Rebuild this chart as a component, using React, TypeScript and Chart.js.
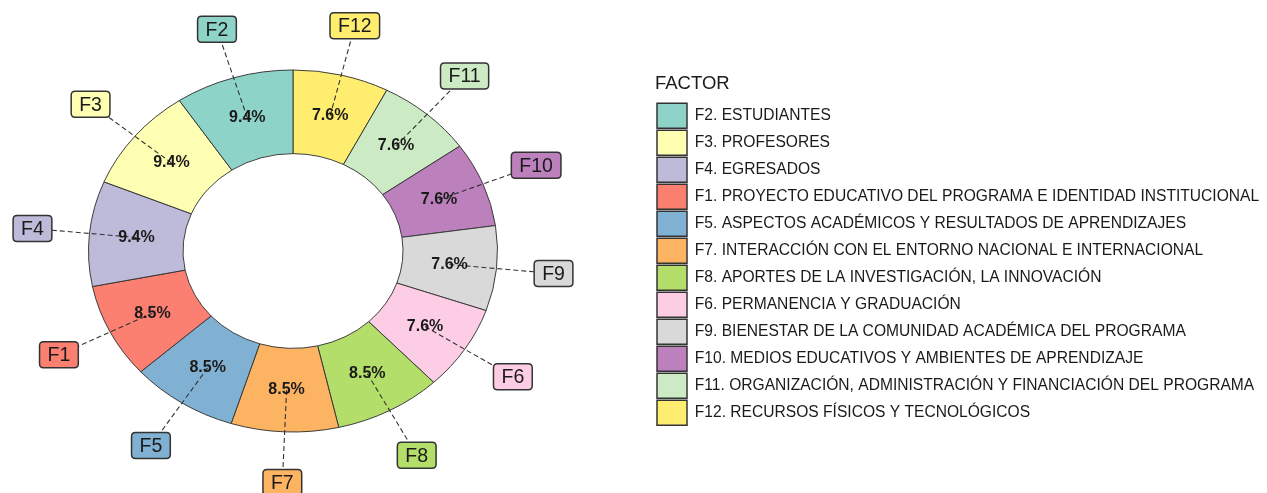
import React, { useEffect, useRef } from 'react';
import { Chart, registerables } from 'chart.js';

Chart.register(...registerables);

// Legend (factor) order
const FACTOR_CODES = ['F2', 'F3', 'F4', 'F1', 'F5', 'F7', 'F8', 'F6', 'F9', 'F10', 'F11', 'F12'];
const FACTOR_NAMES = [
  'F2. ESTUDIANTES',
  'F3. PROFESORES',
  'F4. EGRESADOS',
  'F1. PROYECTO EDUCATIVO DEL PROGRAMA E IDENTIDAD INSTITUCIONAL',
  'F5. ASPECTOS ACADÉMICOS Y RESULTADOS DE APRENDIZAJES',
  'F7. INTERACCIÓN CON EL ENTORNO NACIONAL E INTERNACIONAL',
  'F8. APORTES DE LA INVESTIGACIÓN, LA INNOVACIÓN',
  'F6. PERMANENCIA Y GRADUACIÓN',
  'F9. BIENESTAR DE LA COMUNIDAD ACADÉMICA DEL PROGRAMA',
  'F10. MEDIOS EDUCATIVOS Y AMBIENTES DE APRENDIZAJE',
  'F11. ORGANIZACIÓN, ADMINISTRACIÓN Y FINANCIACIÓN DEL PROGRAMA',
  'F12. RECURSOS FÍSICOS Y TECNOLÓGICOS',
];
const PERCENTS = [9.4, 9.4, 9.4, 8.5, 8.5, 8.5, 8.5, 7.6, 7.6, 7.6, 7.6, 7.6];
const COLORS = [
  '#8DD3C7', '#FFFFB3', '#BEBADA', '#FB8072', '#80B1D3', '#FDB462',
  '#B3DE69', '#FCCDE5', '#D9D9D9', '#BC80BD', '#CCEBC5', '#FFED6F',
];
const LEGEND_TITLE = 'FACTOR';

// layout constants
const CX = 293;
const CY = 251;
const R = 205;
const SY = 181 / 204.5;
const LABEL_R = 1.28;
const FONT = '"Liberation Sans", Arial, Helvetica, sans-serif';
const INK = '#1a1a1a';

// drawing order is reversed (clockwise from top), legend shows reversed back
const drawCodes = [...FACTOR_CODES].reverse();
const drawNames = [...FACTOR_NAMES].reverse();
const drawValues = [...PERCENTS].reverse();
const drawColors = [...COLORS].reverse();

function roundRect(ctx: CanvasRenderingContext2D, x: number, y: number, w: number, h: number, r: number) {
  ctx.beginPath();
  ctx.moveTo(x + r, y);
  ctx.lineTo(x + w - r, y);
  ctx.quadraticCurveTo(x + w, y, x + w, y + r);
  ctx.lineTo(x + w, y + h - r);
  ctx.quadraticCurveTo(x + w, y + h, x + w - r, y + h);
  ctx.lineTo(x + r, y + h);
  ctx.quadraticCurveTo(x, y + h, x, y + h - r);
  ctx.lineTo(x, y + r);
  ctx.quadraticCurveTo(x, y, x + r, y);
  ctx.closePath();
}

const placePlugin = {
  id: 'placeAreas',
  afterLayout(chart: any) {
    const ca = chart.chartArea;
    ca.left = CX - R;
    ca.right = CX + R;
    ca.top = CY - R;
    ca.bottom = CY + R;
    ca.width = 2 * R;
    ca.height = 2 * R;
    const lg = chart.legend;
    if (lg) {
      const dx = 655 - lg.left;
      lg.left += dx;
      lg.right += dx;
      const dy = 75 - lg.top;
      lg.top += dy;
      lg.bottom += dy;
    }
  },
};

const ellipsePlugin = {
  id: 'ellipseAndLabels',
  beforeDatasetsDraw(chart: any) {
    const ctx = chart.ctx;
    const arc = chart.getDatasetMeta(0).data[0];
    const cy = arc ? arc.y : CY;
    ctx.save();
    ctx.translate(0, cy);
    ctx.scale(1, SY);
    ctx.translate(0, -cy);
  },
  afterDatasetsDraw(chart: any) {
    const ctx: CanvasRenderingContext2D = chart.ctx;
    ctx.restore();
    const meta = chart.getDatasetMeta(0);
    const items = meta.data.map((arc: any, i: number) => {
      const p = arc.getProps(['x', 'y', 'startAngle', 'endAngle', 'innerRadius', 'outerRadius'], true);
      const a = (p.startAngle + p.endAngle) / 2;
      const rm = (p.innerRadius + p.outerRadius) / 2;
      const rl = p.outerRadius * LABEL_R;
      return {
        px: p.x + rm * Math.cos(a),
        py: p.y + SY * rm * Math.sin(a),
        bx: p.x + rl * Math.cos(a),
        by: p.y + SY * rl * Math.sin(a),
        code: drawCodes[i],
        value: drawValues[i],
        color: drawColors[i],
      };
    });
    ctx.save();
    // leader segments
    ctx.strokeStyle = '#333';
    ctx.lineWidth = 1.1;
    ctx.setLineDash([5, 3]);
    items.forEach((it: any) => {
      ctx.beginPath();
      ctx.moveTo(it.px, it.py);
      ctx.lineTo(it.bx, it.by);
      ctx.stroke();
    });
    ctx.setLineDash([]);
    // percent text
    ctx.font = `bold 16px ${FONT}`;
    ctx.fillStyle = INK;
    ctx.textAlign = 'center';
    ctx.textBaseline = 'middle';
    items.forEach((it: any) => {
      ctx.fillText(`${it.value.toFixed(1)}%`, it.px, it.py);
    });
    // label boxes
    ctx.font = `19.5px ${FONT}`;
    items.forEach((it: any) => {
      const tw = ctx.measureText(it.code).width;
      const w = tw + 16;
      const h = 26;
      roundRect(ctx, it.bx - w / 2, it.by - h / 2, w, h, 4);
      ctx.fillStyle = it.color;
      ctx.fill();
      ctx.strokeStyle = '#333';
      ctx.lineWidth = 1.5;
      ctx.stroke();
      ctx.fillStyle = INK;
      ctx.fillText(it.code, it.bx, it.by + 1);
    });
    ctx.restore();
  },
};

export default function App() {
  const canvasRef = useRef<HTMLCanvasElement | null>(null);

  useEffect(() => {
    if (!canvasRef.current) return;
    const defaultGen = (Chart as any).overrides.doughnut.plugins.legend.labels.generateLabels;
    const chart = new Chart(canvasRef.current, {
      type: 'doughnut',
      data: {
        labels: drawNames,
        datasets: [
          {
            data: drawValues,
            backgroundColor: drawColors,
            borderColor: '#333',
            borderWidth: 1,
            clip: false as any,
          },
        ],
      },
      options: {
        animation: false,
        responsive: true,
        maintainAspectRatio: false,
        cutout: '53.8%',
        events: [],
        layout: { padding: 0 },
        plugins: {
          tooltip: { enabled: false },
          legend: {
            display: true,
            position: 'right',
            align: 'start',
            reverse: true,
            title: {
              display: true,
              text: LEGEND_TITLE,
              position: 'start',
              color: INK,
              font: { family: FONT, size: 18.5 },
              padding: { top: 0, bottom: 4 },
            },
            labels: {
              boxWidth: 30,
              boxHeight: 25,
              padding: 2,
              color: INK,
              font: { family: FONT, size: 15.6 },
              generateLabels: (c: any) =>
                defaultGen(c).map((l: any) => ({ ...l, lineWidth: 1.5, strokeStyle: '#333' })),
            },
          },
        },
      },
      plugins: [placePlugin, ellipsePlugin],
    });
    return () => chart.destroy();
  }, []);

  return (
    <div style={{ position: 'fixed', left: 0, top: 0, width: 1267, height: 493, background: '#fff' }}>
      <canvas ref={canvasRef} />
    </div>
  );
}
